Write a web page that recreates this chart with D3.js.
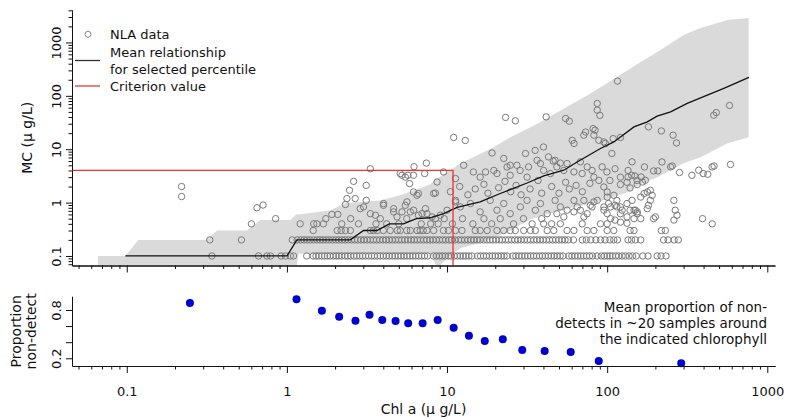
<!DOCTYPE html>
<html>
<head>
<meta charset="utf-8">
<script src="https://cdn.jsdelivr.net/npm/d3@7"></script>
<style>
  body { margin: 0; background: #fff; }
  svg { font-family: "DejaVu Sans", sans-serif; }
</style>
</head>
<body>
<svg id="chart" width="786" height="419"></svg>
<script>
// ---- data ----
// non-detect style rows (MC reported at fixed values)
var row01 = [0.34, 0.665, 0.75, 0.79, 0.92, 0.98, 1.05, 1.1, 1.33,
  1.46, 1.52, 1.58, 1.65, 1.72, 1.79, 1.86, 1.95, 2.03, 2.11, 2.2, 2.31, 2.4, 2.5, 2.62, 2.73, 2.85, 2.97,
  3.1, 3.24, 3.38, 3.52, 3.68, 3.83, 4.0, 4.18, 4.35, 4.55, 4.74, 4.95, 5.16, 5.38, 5.62, 5.86, 6.11, 6.38,
  6.65, 6.94, 7.24, 7.55, 8.22, 8.58, 8.95, 9.34, 9.74, 10.2, 10.6, 11.1, 11.6, 12.1, 12.6, 13.1, 13.7,
  14.3, 15.5, 16.2, 16.9, 17.6, 18.4, 19.2, 20.0, 20.9, 21.8, 22.7, 23.7, 25.8, 26.9, 28.1, 29.3, 30.6,
  31.9, 33.3, 34.7, 36.2, 37.8, 39.4, 41.1, 42.9, 44.8, 46.7, 48.7, 50.8, 53, 57.7, 60.2, 62.8, 65.5,
  68.4, 71.3, 74.4, 77.6, 81, 86.5, 91.9, 95.9, 100, 104, 108, 113, 118, 124, 130, 137, 144, 152,
  167, 180, 205, 217, 233];
var row02 = [0.33, 0.52, 1.08, 1.16, 1.22, 1.28, 1.34, 1.4, 1.47, 1.54, 1.61, 1.68, 1.76, 1.84, 1.93,
  2.02, 2.11, 2.21, 2.31, 2.42, 2.53, 2.65, 2.77, 2.9, 3.03, 3.17, 3.32, 3.47, 3.63, 3.8, 3.98, 4.16,
  4.35, 4.55, 4.76, 4.98, 5.21, 5.45, 5.7, 5.97, 6.24, 6.53, 6.83, 7.15, 7.48, 7.83, 8.19, 8.57, 8.96,
  9.38, 9.81, 10.3, 10.7, 11.2, 11.8, 12.3, 12.9, 13.5, 14.1, 14.7, 15.4, 16.1, 16.9, 17.7, 18.5, 19.3,
  20.2, 21.2, 22.1, 23.2, 24.2, 25.3, 26.5, 27.7, 29, 30.4, 31.8, 33.2, 34.8, 36.4, 38.1, 39.8, 41.7,
  43.6, 45.6, 47.7, 49.9, 52.2, 54.6, 57.2, 61.6, 70, 74, 79, 85, 91, 97, 104, 110, 116, 135, 142,
  150, 162, 225, 240, 262, 278];
var row03 = [1.46, 2.06, 2.18, 2.32, 2.49, 3.32, 3.47, 3.67, 4.0, 4.42, 4.89, 5.1, 5.6, 5.9, 6.5, 6.8,
  7.1, 7.5, 8.25, 9.5, 10.2, 11.3, 12.4, 15, 16.1, 17.8, 20.5, 22.6, 24.8, 26.7, 30.1, 33.2, 35.6, 42.2,
  46.4, 56.2, 62, 75, 82.6, 100, 110, 139, 147, 218, 231];

// other NLA samples [chl a, MC]
var detPts = [
  [0.22, 2.0], [0.22, 1.3], [0.60, 0.4], [0.65, 0.8], [0.71, 0.9], [0.85, 0.5],
  [1.21, 0.4], [1.47, 0.4], [1.54, 0.4], [1.69, 0.4], [1.75, 0.5], [1.91, 0.6], [2.08, 0.6], [2.2, 0.4],
  [2.32, 0.92], [2.37, 1.19], [2.67, 1.19], [2.46, 1.7], [2.61, 2.5], [2.5, 0.5], [2.8, 0.4], [2.87, 0.77],
  [3.01, 0.83], [3.13, 2.1], [3.13, 1.1], [3.32, 4.3], [3.32, 0.62], [3.57, 0.58], [3.6, 0.4], [3.83, 0.5],
  [4.01, 0.96], [4.01, 0.89], [4.2, 0.4], [4.64, 0.77], [4.64, 0.67], [4.87, 0.54], [5.0, 0.4], [5.1, 3.5],
  [5.23, 3.25], [5.23, 0.67], [5.49, 3.0], [5.49, 0.89], [5.62, 1.03], [5.6, 0.5], [5.7, 3.25], [5.83, 2.27],
  [5.9, 0.67], [6.17, 3.25], [6.22, 4.7], [6.18, 0.72], [6.17, 1.58], [6.49, 1.37], [6.63, 1.48], [6.63, 0.58],
  [6.9, 0.4], [6.98, 0.62], [7.25, 3.5], [7.33, 0.77], [7.43, 5.5], [7.5, 0.62], [7.9, 0.4], [8.06, 0.54],
  [8.25, 1.48], [8.46, 1.51], [8.46, 0.5], [8.66, 2.43], [8.8, 0.4], [9.08, 0.58], [9.52, 3.75], [9.6, 0.5],
  [11.0, 16.6], [13.0, 14.6], [23.2, 39.4], [26.7, 34], [41.6, 40.3], [55, 37.6], [58, 33.5], [86.7, 72],
  [86.7, 54], [90, 43], [116, 189],
  [11.3, 2.82], [11.3, 1.03], [12.7, 5.0], [14.6, 3.75], [16.1, 3.0], [17.4, 3.75], [19.1, 8.5], [19.6, 4.0],
  [20.5, 3.5], [22.6, 6.7], [23.7, 4.66], [24.8, 3.25], [24.8, 5.0], [27.3, 5.0], [28.6, 4.0], [30.9, 8.3],
  [31.6, 3.0], [32.3, 4.66], [35.5, 9.5], [36.5, 6.2], [38.3, 5.4], [40, 11], [40.1, 4.0], [43, 7.2],
  [44.2, 3.5], [46, 6.0], [47.3, 6.2], [48.5, 4.66], [51, 5.5], [53.6, 4.0], [56.2, 5.4], [60.5, 14.7],
  [62.1, 12.8], [62, 3.75], [68, 5.8], [69.8, 3.5], [71.5, 18.3], [73.3, 21], [75, 4.66], [80.5, 4.0],
  [81.6, 24.4], [82.6, 18.3], [82.6, 3.0], [84, 22.7], [88.6, 14.7], [88.7, 2.6], [93, 4.66], [95.4, 13.7],
  [97.5, 12.8], [99.6, 3.75], [104, 2.6], [107, 8.3], [109, 15.8], [112, 4.3], [121, 16.6], [121, 3.0],
  [133, 2.4], [135, 4.0], [142, 3.25], [143, 5.8], [154, 2.6],
  [10, 0.72], [11.3, 1.1], [12.1, 0.83], [14, 0.96], [16.1, 0.67], [18.6, 1.1], [20.5, 0.72], [22.6, 0.96],
  [24.8, 0.62], [28.7, 0.83], [31.6, 1.1], [35.6, 0.72], [38.3, 0.96], [42.2, 0.62], [47.3, 1.1], [51, 0.83],
  [56.2, 0.72], [62, 1.1], [65, 0.83], [71.5, 1.1], [75, 0.62], [80.5, 0.83], [86.7, 1.1], [95.4, 0.72],
  [100, 1.27], [105, 0.83], [115, 1.1], [124, 0.72], [133, 0.96], [143, 1.1], [154, 0.67],
  [10.5, 1.6], [12, 2.0], [13.5, 1.4], [15, 1.8], [17, 2.2], [18, 1.5], [21, 1.9], [23, 2.5], [25, 1.6],
  [27, 2.1], [29, 1.4], [33, 1.8], [37, 2.6], [39, 1.5], [45, 2.0], [50, 1.5], [55, 2.4], [58, 1.8],
  [64, 2.1], [70, 1.6], [78, 2.3],
  [10.8, 0.4], [12.5, 0.5], [14.5, 0.4], [17, 0.5], [19, 0.4], [21.5, 0.5], [26, 0.4], [30, 0.5], [34, 0.4],
  [39, 0.5], [40.1, 0.4], [45, 0.4], [48.5, 0.62], [51, 0.4], [53.6, 0.54], [62, 0.67], [68, 0.72],
  [69.8, 0.4], [71.5, 0.54], [78.6, 0.89], [82.6, 1.03], [90.8, 0.4], [95.4, 0.83], [100, 0.62], [100, 0.4],
  [105, 0.5], [112, 0.47], [112, 0.89], [115, 0.83], [121, 0.62], [121, 0.43], [133, 0.54], [133, 0.41],
  [147, 0.72], [147, 0.5], [154, 0.62], [162, 0.5], [162, 1.27], [170, 1.48], [178, 1.58], [186, 1.7],
  [191, 1.37], [186, 1.1], [181, 0.89], [178, 0.77], [195, 0.5], [200, 0.54], [261, 1.1], [266, 0.72],
  [273, 0.58], [261, 0.47], [394, 0.5], [453, 0.4],
  [95.3, 1.96], [100, 1.58], [110, 1.37], [102, 0.96], [121, 0.83], [139, 0.72], [150, 0.72], [121, 2.18],
  [139, 1.88], [154, 2.18], [166, 2.43], [135, 3.02], [149, 3.15], [163, 3.02], [173, 2.62],
  [463, 43.4], [480, 48.6], [581, 66], [181, 26.2], [218, 22], [258, 18.3], [271, 13.1], [171, 4.66],
  [195, 3.92], [207, 3.92], [220, 5.77], [249, 4.66], [255, 4.85], [283, 3.66], [338, 3.25], [373, 4.04],
  [398, 3.5], [425, 3.39], [452, 4.66], [465, 4.85], [589, 5.18]
];

// shaded percentile band
var bandChl = [0.066, 0.098, 0.118, 0.313, 0.367, 0.565, 0.681, 1.05, 1.14, 1.18, 1.86, 2.31, 3.83, 5.1,
  6.8, 7.87, 8.7, 10.5, 12.1, 15.5, 19.5, 24.9, 33.2, 40, 61.5, 75.3, 100, 134, 161, 206, 300, 383, 565, 764];
var bandHi = [0.1, 0.1, 0.2, 0.2, 0.3, 0.3, 0.47, 0.47, 0.6, 0.6, 0.71, 0.97, 1.1, 1.37, 1.85, 2.2, 2.86,
  4.04, 5.46, 7.7, 10.9, 16.8, 25.8, 35, 73, 103, 173, 303, 427, 660, 1376, 1862, 2630, 2870];
var bandLo = [0.05, 0.05, 0.05, 0.05, 0.05, 0.05, 0.05, 0.05, 0.05, 0.11, 0.11, 0.11, 0.11, 0.11, 0.11,
  0.11, 0.06, 0.103, 0.139, 0.172, 0.214, 0.3, 0.486, 0.578, 0.817, 0.93, 1.15, 1.56, 2.2, 2.98, 5.46,
  7.08, 12.9, 16.8];

// mean relationship
var meanChl = [0.098, 1.0, 1.155, 2.49, 3.01, 3.65, 4.36, 5.35, 6.43, 7.86, 9.52, 11.55, 16.1, 21.5,
  31.6, 40.2, 53.6, 64.9, 90.8, 110, 147, 178, 205, 249, 316, 422, 535, 767];
var meanMC = [0.1, 0.1, 0.2, 0.2, 0.3, 0.3, 0.4, 0.4, 0.5, 0.52, 0.62, 0.81, 1.03, 1.48, 2.33, 3.16,
  4.04, 5.77, 10.3, 13.7, 26.2, 32.5, 41.6, 50.1, 72, 103, 138, 221];

var critMC = 4;
var critChl = 10.9;

// proportion non-detect panel
var propChl = [0.248, 1.148, 1.654, 2.12, 2.68, 3.28, 3.94, 4.77, 5.72, 7.04, 8.74, 11.0, 13.7, 17.2,
  22.3, 29.5, 40.7, 59.2, 88.6, 290];
var propVal = [0.887, 0.933, 0.79, 0.717, 0.667, 0.742, 0.676, 0.663, 0.635, 0.635, 0.676, 0.58, 0.48,
  0.415, 0.436, 0.303, 0.29, 0.278, 0.166, 0.138];

var xMajor = [0.1, 1, 10, 100, 1000];
var yMajor = [0.1, 1, 10, 100, 1000];
var pTicks = [0.2, 0.4, 0.6, 0.8];
var pLabels = [0.2, 0.8];
var noteLines = ['Mean proportion of non-', 'detects in ~20 samples around', 'the indicated chlorophyll'];

// ---- layout ----
var svg = d3.select('#chart');
var left = 72, right = 775;
var top1 = 10, bot1 = 265.5;
var top2 = 296.7, bot2 = 366;

var x = d3.scaleLog().domain([0.0455, 1117]).range([left, right]);
var y = d3.scaleLog().domain([0.0663, 4055]).range([bot1, top1]);
var yp = d3.scaleLinear().domain([0.104, 0.965]).range([bot2, top2]);

var isMajor = function(d) { return Math.abs(Math.log10(d) - Math.round(Math.log10(d))) < 1e-9; };
var xMinor = x.ticks().filter(function(d) { return !isMajor(d); });
var yMinor = y.ticks().filter(function(d) { return !isMajor(d); });

svg.append('clipPath').attr('id', 'clip1')
  .append('rect').attr('x', left).attr('y', top1).attr('width', right - left).attr('height', bot1 - top1);

var plot = svg.append('g').attr('clip-path', 'url(#clip1)');

// band
var bandData = bandChl.map(function(c, i) { return { c: c, lo: bandLo[i], hi: bandHi[i] }; });
plot.append('path')
  .datum(bandData)
  .attr('fill', '#dadada')
  .attr('d', d3.area()
    .x(function(d) { return x(d.c); })
    .y0(function(d) { return y(d.lo); })
    .y1(function(d) { return y(d.hi); }));

// points
var pts = [];
row01.forEach(function(c) { pts.push([c, 0.1]); });
row02.forEach(function(c) { pts.push([c, 0.2]); });
row03.forEach(function(c) { pts.push([c, 0.3]); });
detPts.forEach(function(p) { pts.push(p); });

plot.selectAll('circle.nla')
  .data(pts)
  .enter()
  .append('circle')
  .attr('class', 'nla')
  .attr('cx', function(d) { return x(d[0]); })
  .attr('cy', function(d) { return y(d[1]); })
  .attr('r', 3.2)
  .attr('fill', 'none')
  .attr('stroke', '#7a7a7a')
  .attr('stroke-width', 1);

// mean line
plot.append('path')
  .datum(meanChl.map(function(c, i) { return [c, meanMC[i]]; }))
  .attr('fill', 'none')
  .attr('stroke', '#111')
  .attr('stroke-width', 1.3)
  .attr('d', d3.line()
    .x(function(d) { return x(d[0]); })
    .y(function(d) { return y(d[1]); }));

// criterion lines
svg.append('path')
  .attr('fill', 'none')
  .attr('stroke', '#f03232')
  .attr('stroke-width', 1.3)
  .attr('d', 'M' + left + ',' + y(critMC) + 'H' + x(critChl) + 'V' + bot1);

// ---- axes top panel ----
function styleAxis(g) {
  g.selectAll('text').attr('fill', '#111').style('font-size', '13px').style('font-family', '"DejaVu Sans", sans-serif');
  g.selectAll('line, path').attr('stroke', '#111');
}

svg.append('g')
  .attr('transform', 'translate(0,' + bot1 + ')')
  .call(d3.axisBottom(x).tickValues(xMinor).tickSize(3.5).tickSizeOuter(0).tickFormat(''))
  .call(styleAxis);
svg.append('g')
  .attr('transform', 'translate(0,' + bot1 + ')')
  .call(d3.axisBottom(x).tickValues(xMajor).tickSize(7).tickSizeOuter(0).tickFormat(''))
  .call(styleAxis);

svg.append('g')
  .attr('transform', 'translate(' + left + ',0)')
  .call(d3.axisLeft(y).tickValues(yMinor).tickSize(3.5).tickSizeOuter(0).tickFormat(''))
  .call(styleAxis);
var yAx = svg.append('g')
  .attr('transform', 'translate(' + left + ',0)')
  .call(d3.axisLeft(y).tickValues(yMajor).tickSize(6).tickSizeOuter(0).tickFormat(function(d) { return String(d); }))
  .call(styleAxis);
yAx.selectAll('.tick text')
  .attr('transform', 'rotate(-90)')
  .attr('x', 0).attr('y', -11).attr('dy', 0)
  .style('text-anchor', 'middle');

svg.append('text')
  .attr('transform', 'translate(32,' + ((top1 + bot1) / 2) + ') rotate(-90)')
  .attr('text-anchor', 'middle')
  .style('font-size', '14px')
  .attr('fill', '#111')
  .text('MC (\u03bc g/L)');

// legend
var lg = svg.append('g').style('font-size', '13px').attr('fill', '#111');
lg.append('circle').attr('cx', 88).attr('cy', 34.3).attr('r', 3).attr('fill', 'none').attr('stroke', '#8a8a8a');
lg.append('text').attr('x', 110).attr('y', 38.8).text('NLA data');
lg.append('line').attr('x1', 75).attr('x2', 100).attr('y1', 60.5).attr('y2', 60.5).attr('stroke', '#333').attr('stroke-width', 1.3);
lg.append('text').attr('x', 110).attr('y', 57.2).text('Mean relationship');
lg.append('text').attr('x', 110).attr('y', 73.8).text('for selected percentile');
lg.append('line').attr('x1', 75).attr('x2', 100).attr('y1', 86).attr('y2', 86).attr('stroke', '#f03232').attr('stroke-width', 1.3);
lg.append('text').attr('x', 110).attr('y', 90.5).text('Criterion value');

// ---- bottom panel ----
svg.selectAll('circle.prop')
  .data(propChl)
  .enter()
  .append('circle')
  .attr('class', 'prop')
  .attr('cx', function(d) { return x(d); })
  .attr('cy', function(d, i) { return yp(propVal[i]); })
  .attr('r', 4)
  .attr('fill', '#0000d0');

svg.append('g')
  .attr('transform', 'translate(0,' + bot2 + ')')
  .call(d3.axisBottom(x).tickValues(xMinor).tickSize(3.5).tickSizeOuter(0).tickFormat(''))
  .call(styleAxis);
svg.append('g')
  .attr('transform', 'translate(0,' + bot2 + ')')
  .call(d3.axisBottom(x).tickValues(xMajor).tickSize(7).tickSizeOuter(0).tickPadding(14)
    .tickFormat(function(d) { return String(d); }))
  .call(styleAxis);

var pAx = svg.append('g')
  .attr('transform', 'translate(' + left + ',0)')
  .call(d3.axisLeft(yp).tickValues(pTicks).tickSize(6).tickSizeOuter(0)
    .tickFormat(function(d) { return pLabels.indexOf(d) >= 0 ? String(d) : ''; }))
  .call(styleAxis);
pAx.select('.domain').attr('d', 'M0.5,' + top2 + 'V' + bot2);
pAx.selectAll('.tick text')
  .attr('transform', 'rotate(-90)')
  .attr('x', 0).attr('y', -11).attr('dy', 0)
  .style('text-anchor', 'middle');

svg.append('text')
  .attr('transform', 'translate(21,' + ((top2 + bot2) / 2) + ') rotate(-90)')
  .attr('text-anchor', 'middle').style('font-size', '14px').attr('fill', '#111')
  .text('Proportion');
svg.append('text')
  .attr('transform', 'translate(36,' + ((top2 + bot2) / 2) + ') rotate(-90)')
  .attr('text-anchor', 'middle').style('font-size', '14px').attr('fill', '#111')
  .text('non-detect');

svg.append('text')
  .attr('x', (left + right) / 2).attr('y', 414)
  .attr('text-anchor', 'middle').style('font-size', '14px').attr('fill', '#111')
  .text('Chl a (\u03bc g/L)');

svg.append('g').selectAll('text')
  .data(noteLines)
  .enter()
  .append('text')
  .attr('x', 767)
  .attr('y', function(d, i) { return 311.5 + i * 16.3; })
  .attr('text-anchor', 'end')
  .style('font-size', '13.5px')
  .attr('fill', '#111')
  .text(function(d) { return d; });
</script>
</body>
</html>
